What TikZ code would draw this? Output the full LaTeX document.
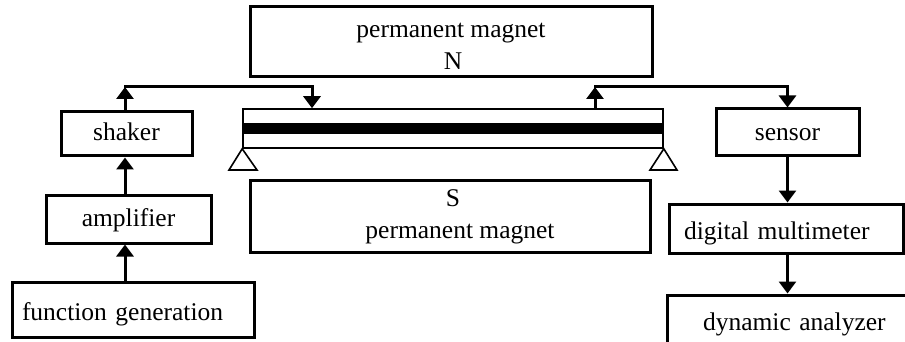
\documentclass[tikz,border=0pt]{standalone}
\usepackage{fontspec}
\setmainfont{Liberation Serif}
\usetikzlibrary{arrows.meta}
\begin{document}
\begin{tikzpicture}[x=1pt,y=-1pt,
  box/.style={draw, line width=3pt, rectangle, inner sep=0pt, align=center,
    font=\fontsize{25.5}{32}\selectfont, text depth=0pt},
  thin/.style={line width=1.6pt},
  arr/.style={line width=3pt, line cap=rect, -{Triangle[width=17pt,length=12pt]}}]
\useasboundingbox (0,0) rectangle (905,342);
\clip (0,0) rectangle (905,342);
% magnets
\node[box, minimum width=402pt, minimum height=70pt, text height=56pt] (topmag) at (451,42)
  {permanent magnet\\\hspace*{4pt}N};
\node[box, minimum width=400pt, minimum height=72pt, text height=44pt] (botmag) at (450,216)
  {\hspace*{6pt}S\\\hspace*{20pt}permanent magnet};
% beam
\node[draw, thin, rectangle, inner sep=0pt, minimum width=420pt, minimum height=39pt] (beam) at (453,128.5) {};
\fill (243,123) rectangle (663,134);
\draw[thin] (beam.south west) -- (229,170) -- (257,170) -- cycle;
\draw[thin] (beam.south east) -- (650,170) -- (677,170) -- cycle;
% left chain
\node[box, minimum width=131pt, minimum height=44pt, text height=14pt] (shaker) at (126.5,134) {shaker};
\node[box, minimum width=165pt, minimum height=48pt, text height=14pt] (amp) at (128.5,219) {amplifier};
\node[box, minimum width=242pt, minimum height=55pt, text width=232pt, align=left, text height=22pt] (fg) at (133,309.5) {\hspace*{5pt}function generation};
% right chain
\node[box, minimum width=143pt, minimum height=47pt, text height=17pt] (sensor) at (787.5,132.5) {sensor};
\node[box, minimum width=234pt, minimum height=49pt, text width=224pt, align=left, text height=22pt] (dmm) at (786,228.5) {\hspace*{10pt}digital multimeter};
\node[box, minimum width=258pt, minimum height=56pt, text width=248pt, align=left, text height=15pt] (dyn) at (796,323) {\hspace*{31pt}dynamic analyzer};
% connectors
\coordinate (jL) at (125,87);
\coordinate (dL) at (312,87);
\coordinate (jR) at (595,87);
\draw[arr] (shaker.north -| jL) -- (jL);
\draw[arr] (jL) -- (dL) -- (beam.north -| dL);
\draw[arr] (beam.north -| jR) -- (jR);
\draw[arr] (jR) -| (sensor.north);
\draw[arr] (amp.north -| jL) -- (shaker.south -| jL);
\draw[arr] (fg.north -| jL) -- (amp.south -| jL);
\draw[arr] (sensor.south) -- (sensor.south |- dmm.north);
\draw[arr] (sensor.south |- dmm.south) -- (sensor.south |- dyn.north);
\end{tikzpicture}
\end{document}
